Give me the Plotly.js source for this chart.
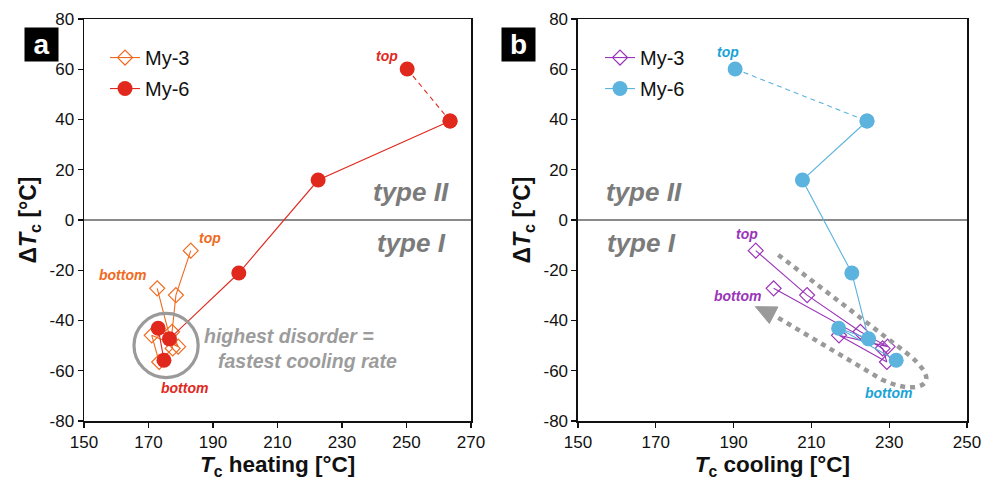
<!DOCTYPE html>
<html><head><meta charset="utf-8">
<script src="https://cdn.plot.ly/plotly-3.0.1.min.js"></script>
<style>html,body{margin:0;padding:0;background:#fff}#chart{width:983px;height:481px}</style>
</head><body><div id="chart"></div>
<script>
// ---- data ----
const seriesNames = ['My-3', 'My-6'];
// My-3 (8 positions, top -> bottom)
const my3Heating = [183.1, 178.5, 177.3, 179.2, 171.0, 173.3, 177.5, 172.7];
const my3Cooling = [195.7, 208.9, 222.6, 229.6, 217.1, 229.4, 228.3, 200.3];
const my3DeltaT  = [-12.2, -29.9, -44.5, -50.4, -45.9, -56.5, -51.1, -27.2];
// My-6 (7 positions, top -> bottom)
const my6Heating = [250.2, 263.5, 222.6, 198.0, 176.5, 173.0, 174.8];
const my6Cooling = [190.4, 224.3, 207.7, 220.4, 224.7, 217.0, 231.8];
const my6DeltaT  = [60.1, 39.4, 15.9, -21.1, -47.3, -43.1, -55.8];
// axis ticks
const yTicks = [-80, -60, -40, -20, 0, 20, 40, 60, 80];
const yTickText = ['-80', '-60', '-40', '-20', '0', '20', '40', '60', '80'];
const xTicksA = [150, 170, 190, 210, 230, 250, 270];
const xTicksB = [150, 170, 190, 210, 230, 250];

// ---- styles ----
const FONT = 'Liberation Sans, Arial, Helvetica, sans-serif';
const C = {
  orange: '#F06A1E', red: '#E0281D', purple: '#9A34B8',
  blue: '#5CB3DD', blueText: '#1AA3D6', gray: '#7b7b7b', lightGray: '#9c9c9c'
};

function seriesTraces(xv, col3, col6, xa, ya, lg, y3, y6) {
  const last = xv[1].length;
  return [
    { x: xv[0], y: y3, xaxis: xa, yaxis: ya, name: seriesNames[0], legend: lg, legendgroup: lg + 'm3',
      type: 'scatter', mode: 'lines+markers', cliponaxis: false,
      line: { color: col3, width: 1.1 },
      marker: { symbol: 'diamond-open', size: 11.5, color: col3, line: { width: 1.2, color: col3 } } },
    { x: xv[1].slice(0, 2), y: y6.slice(0, 2), xaxis: xa, yaxis: ya, showlegend: false,
      type: 'scatter', mode: 'lines+markers', cliponaxis: false,
      line: { color: col6, width: 1.1, dash: '5px,4px' },
      marker: { symbol: 'circle', size: 15, color: col6 } },
    { x: xv[1].slice(1, last), y: y6.slice(1, last), xaxis: xa, yaxis: ya, name: seriesNames[1], legend: lg, legendgroup: lg + 'm6',
      type: 'scatter', mode: 'lines+markers', cliponaxis: false,
      line: { color: col6, width: 1.1 },
      marker: { symbol: 'circle', size: 15, color: col6 } }
  ];
}

const data = [].concat(
  seriesTraces([my3Heating, my6Heating], C.orange, C.red, 'x', 'y', 'legend', my3DeltaT, my6DeltaT),
  seriesTraces([my3Cooling, my6Cooling], C.purple, C.blue, 'x2', 'y2', 'legend2', my3DeltaT, my6DeltaT)
);

function xAxis(dom, range, ticks, title, anchor) {
  return {
    domain: dom, range: range, tickvals: ticks, ticktext: ticks.map(String), anchor: anchor,
    showgrid: false, zeroline: false, showline: true, mirror: true, linecolor: '#111', linewidth: 1.5,
    ticks: 'outside', ticklen: 5, tickwidth: 1.3, tickcolor: '#111',
    tickfont: { family: FONT, size: 17, color: '#111' },
    title: { text: title, font: { family: FONT, size: 22.5, color: '#111' }, standoff: 5 },
    fixedrange: true
  };
}
function yAxis(anchor) {
  return {
    domain: [0, 1], range: [-80, 80], tickvals: yTicks, ticktext: yTickText, anchor: anchor,
    showgrid: false, zeroline: true, zerolinecolor: '#8a8a8a', zerolinewidth: 1.5,
    showline: true, mirror: true, linecolor: '#111', linewidth: 1.5,
    ticks: 'outside', ticklen: 5, tickwidth: 1.3, tickcolor: '#111',
    tickfont: { family: FONT, size: 17, color: '#111' },
    title: { text: '<b>Δ<i>T</i><sub>c</sub> [°C]</b>', font: { family: FONT, size: 23, color: '#111' }, standoff: 6 },
    fixedrange: true
  };
}

function label(text, xr, yr, x, y, dx, dy, color) {
  return { text: '<b><i>' + text + '</i></b>', xref: xr, yref: yr, x: x, y: y, xshift: dx, yshift: dy,
    showarrow: false, font: { family: FONT, size: 14, color: color } };
}
function note(text, xr, yr, x, y, size, color) {
  return { text: '<b><i>' + text + '</i></b>', xref: xr, yref: yr, x: x, y: y,
    showarrow: false, font: { family: FONT, size: size, color: color } };
}

const annotations = [
  // panel letters
  { text: '<b>a</b>', xref: 'paper', yref: 'paper', x: -0.0682, y: 0.9796, showarrow: false,
    bgcolor: '#000', width: 31, height: 31, font: { family: FONT, size: 28, color: '#fff' } },
  { text: '<b>b</b>', xref: 'paper', yref: 'paper', x: 0.4926, y: 0.9796, showarrow: false,
    bgcolor: '#000', width: 31, height: 31, font: { family: FONT, size: 28, color: '#fff' } },
  // type labels
  note('type II', 'x', 'y', 251.3, 11.3, 26, C.gray),
  note('type I', 'x', 'y', 251.5, -9.3, 26, C.gray),
  note('type II', 'x2', 'y2', 166.9, 11.3, 26, C.gray),
  note('type I', 'x2', 'y2', 166.3, -9.3, 26, C.gray),
  // highest disorder
  note('highest disorder =', 'x', 'y', 213.5, -46.2, 19.5, C.lightGray),
  note('fastest cooling rate', 'x', 'y', 219.3, -56.1, 19.5, C.lightGray),
  // top / bottom labels
  label('top', 'x', 'y', my6Heating[0], my6DeltaT[0], -20, 13, C.red),
  label('bottom', 'x', 'y', my6Heating[my6Heating.length - 1], my6DeltaT[my6DeltaT.length - 1], 21, -28, C.red),
  label('top', 'x', 'y', my3Heating[0], my3DeltaT[0], 19, 13, C.orange),
  label('bottom', 'x', 'y', my3Heating[my3Heating.length - 1], my3DeltaT[my3DeltaT.length - 1], -35, 13, C.orange),
  label('top', 'x2', 'y2', my6Cooling[0], my6DeltaT[0], -7, 17, C.blueText),
  label('bottom', 'x2', 'y2', my6Cooling[my6Cooling.length - 1], my6DeltaT[my6DeltaT.length - 1], -8, -33, C.blueText),
  label('top', 'x2', 'y2', my3Cooling[0], my3DeltaT[0], -9, 17, C.purple),
  label('bottom', 'x2', 'y2', my3Cooling[my3Cooling.length - 1], my3DeltaT[my3DeltaT.length - 1], -36, -8, C.purple)
];

const shapes = [
  { type: 'circle', xref: 'x', yref: 'y', x0: 165.5, x1: 185.4, y0: -62.7, y1: -37.2,
    line: { color: '#9a9a9a', width: 3.2 } },
  { type: 'path', xref: 'x2', yref: 'y2',
    path: 'M201.5,-13.9 L235.6,-54.3 Q242.6,-64.2 237.2,-66.4 Q233.6,-67.4 228.2,-63.6 L200.9,-38.4',
    line: { color: '#9a9a9a', width: 4.5, dash: '5px,5px' } },
  { type: 'path', xref: 'x2', yref: 'y2',
    path: 'M195.6,-34.5 L201.4,-34.6 L199.2,-41.2 Z',
    fillcolor: '#9a9a9a', line: { color: '#9a9a9a', width: 1 } }
];

const layout = {
  width: 983, height: 481,
  margin: { l: 84, r: 16, t: 19, b: 60 },
  paper_bgcolor: '#fff', plot_bgcolor: '#fff',
  font: { family: FONT, color: '#111' },
  showlegend: true,
  xaxis: xAxis([0, 0.4383], [150, 270], xTicksA, '<b><i>T</i><sub>c</sub> heating [°C]</b>', 'y'),
  yaxis: yAxis('x'),
  xaxis2: xAxis([0.5594, 1], [150, 250], xTicksB, '<b><i>T</i><sub>c</sub> cooling [°C]</b>', 'y2'),
  yaxis2: yAxis('x2'),
  legend: { x: 0.0238, y: 0.9526, xanchor: 'left', yanchor: 'top', bgcolor: 'rgba(0,0,0,0)',
    font: { family: FONT, size: 20, color: '#111' }, tracegroupgap: 2, itemwidth: 30 },
  legend2: { x: 0.5844, y: 0.9526, xanchor: 'left', yanchor: 'top', bgcolor: 'rgba(0,0,0,0)',
    font: { family: FONT, size: 20, color: '#111' }, tracegroupgap: 2, itemwidth: 30 },
  annotations: annotations,
  shapes: shapes
};

Plotly.newPlot('chart', data, layout, { displayModeBar: false, staticPlot: true });
</script>
</body></html>
